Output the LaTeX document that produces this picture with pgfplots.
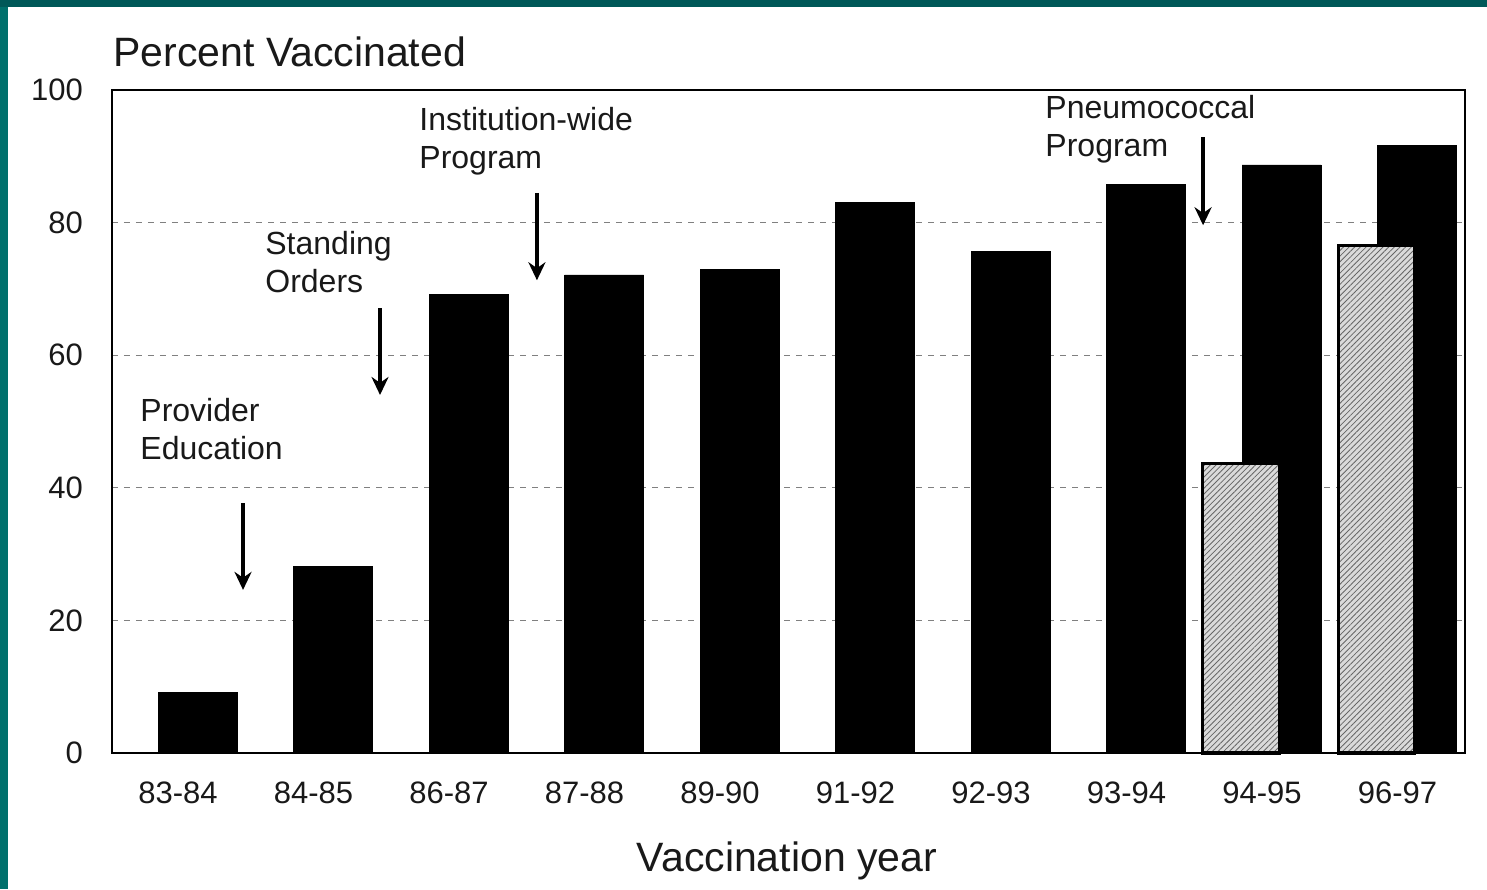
\documentclass[border=0pt]{standalone}
\usepackage{fontspec}
\setmainfont{Liberation Sans}
\usepackage{pgfplots}
\pgfplotsset{compat=1.18}
\usetikzlibrary{patterns.meta,arrows.meta}

\definecolor{tealtop}{RGB}{0,88,88}
\definecolor{tealside}{RGB}{0,112,108}
\definecolor{ink}{RGB}{25,25,25}
\definecolor{hatchbg}{RGB}{218,218,218}

\begin{document}
\begin{tikzpicture}
% frame: 1px = 0.5pt, axis box lower left at (0,0)
\fill[tealside] (-56pt,-68pt) rectangle (687.5pt,376.5pt);
\fill[tealtop] (-56pt,373pt) rectangle (687.5pt,376.5pt);
\fill[white] (-52pt,-68pt) rectangle (687.5pt,373pt);

\begin{axis}[
  at={(0,0)}, anchor=south west,
  scale only axis,
  width=676.5pt, height=331.5pt,
  xmin=-0.487, xmax=9.498,
  ymin=0, ymax=100,
  axis line style={line width=1pt, black},
  xtick={0,...,9},
  xticklabels={83-84,84-85,86-87,87-88,89-90,91-92,92-93,93-94,94-95,96-97},
  ytick={0,20,40,60,80,100},
  major tick length=0pt,
  ymajorgrids,
  grid style={gray, line width=0.6pt, dash pattern=on 3pt off 3pt},
  tick label style={font=\fontsize{15.5}{18}\selectfont, text=ink},
  /pgf/number format/assume math mode=true,
  xticklabel style={anchor=center, yshift=-20pt},
  yticklabel style={anchor=east, xshift=-11pt},
  clip=false,
]
\addplot[ybar, bar width=0.583, bar shift=0, fill=black, draw=black]
  coordinates {
    (0.144,9.2) (1.144,28.1) (2.144,69.1) (3.144,72.1) (4.144,72.9)
    (5.144,83.0) (6.144,75.7) (7.144,85.7) (8.144,88.7) (9.144,91.6)
  };
\addplot[ybar, bar width=0.565, bar shift=0, draw=black, line width=1.6pt,
  fill=hatchbg,
  postaction={pattern={Lines[angle=45, distance=2pt, line width=0.4pt]}, pattern color=gray!80!black}]
  coordinates {
    (7.845,43.7) (8.845,76.5)
  };

% annotations
\tikzset{note/.style={anchor=west, inner sep=0pt, align=left, text=ink,
  font=\fontsize{16}{19}\selectfont}}
\node[note] at (axis cs:-0.280,48.9) {Provider\\Education};
\node[note] at (axis cs:0.642,74.0) {Standing\\Orders};
\node[note] at (axis cs:1.779,92.2) {Institution-wide\\Program};
\node[note] at (axis cs:6.399,94.1) {Pneumococcal\\Program};

\tikzset{arr/.style={draw=black, line width=1.8pt, -{Stealth[length=9pt,width=8.5pt]}}}
\draw[arr] (axis cs:0.480,37.7) -- (axis cs:0.480,24.6);
\draw[arr] (axis cs:1.491,67.1) -- (axis cs:1.491,54.0);
\draw[arr] (axis cs:2.649,84.5) -- (axis cs:2.649,71.3);
\draw[arr] (axis cs:7.565,92.9) -- (axis cs:7.565,79.6);
\end{axis}

\node[anchor=west, inner sep=0pt, text=ink, font=\fontsize{20.5}{24}\selectfont]
  at (0.5pt,350.5pt) {Percent Vaccinated};
\node[anchor=center, inner sep=0pt, text=ink, font=\fontsize{20.5}{24}\selectfont]
  at (337.5pt,-54pt) {Vaccination year};

\pgfresetboundingbox
\useasboundingbox (-56pt,-68pt) rectangle (687.5pt,376.5pt);
\end{tikzpicture}
\end{document}
